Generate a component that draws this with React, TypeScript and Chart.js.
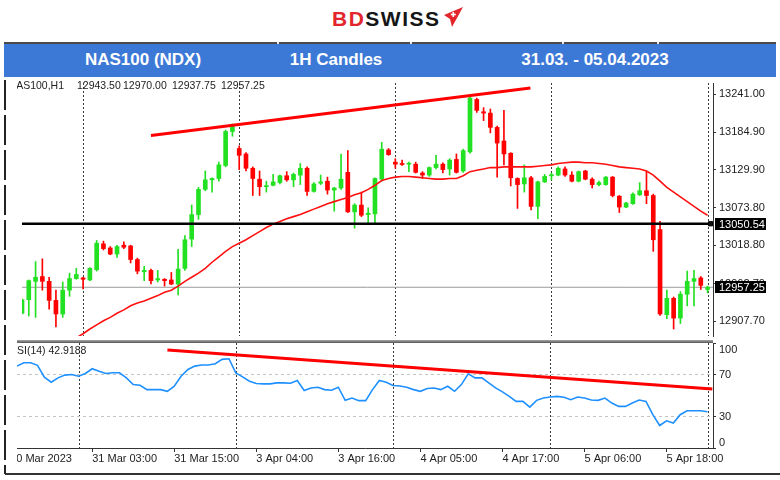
import React, { useEffect, useRef } from "react";
import { Chart, registerables } from "chart.js";

Chart.register(...registerables);

const FONT = "'Liberation Sans', Arial, Helvetica, sans-serif";

// ---------- data ----------
const opens = [
  12919, 12939, 12966, 12973, 12966, 12938, 12918, 12953, 12970, 12971,
  12968, 12983, 13021, 13015, 13006, 13019, 13018, 12998, 12980, 12982,
  12968, 12969, 12968, 12962, 12985, 13028, 13064, 13101, 13115, 13117,
  13136, 13186, 13161, 13153, 13132, 13116, 13105, 13107, 13111, 13121,
  13115, 13122, 13132, 13098, 13110, 13113, 13100, 13103, 13126, 13068,
  13078, 13064, 13065, 13116, 13159, 13141, 13139, 13138, 13138, 13125,
  13122, 13133, 13138, 13131, 13145, 13128, 13156, 13233, 13215, 13213,
  13192, 13172, 13154, 13117, 13109, 13118, 13076, 13112, 13121, 13122,
  13131, 13122, 13113, 13128, 13116, 13108, 13108, 13119, 13091, 13075,
  13080, 13093, 13099, 13092, 13042, 12917, 12941, 12912, 12947, 12966,
  12971, 12954,
];
const highs = [
  12940, 12968, 12995, 12999, 12972, 12953, 12965, 12978, 12985, 12972,
  12986, 13026, 13025, 13017, 13019, 13024, 13019, 13000, 12988, 12984,
  12982, 12970, 12979, 13013, 13033, 13078, 13104, 13128, 13118, 13141,
  13188, 13197, 13165, 13155, 13134, 13128, 13113, 13123, 13122, 13127,
  13125, 13139, 13134, 13111, 13122, 13119, 13104, 13153, 13158, 13080,
  13097, 13074, 13118, 13170, 13161, 13146, 13144, 13141, 13141, 13127,
  13134, 13151, 13140, 13146, 13153, 13160, 13238, 13235, 13221, 13219,
  13194, 13217, 13155, 13118, 13137, 13120, 13113, 13123, 13125, 13134,
  13134, 13127, 13128, 13129, 13118, 13113, 13120, 13120, 13092, 13082,
  13096, 13111, 13128, 13094, 13054, 12953, 12943, 12951, 12981, 12982,
  12973, 12959,
];
const lows = [
  12918, 12915, 12913, 12953, 12925, 12899, 12913, 12944, 12969, 12955,
  12967, 12981, 13012, 13005, 13001, 13014, 12993, 12977, 12967, 12962,
  12965, 12959, 12961, 12946, 12982, 13017, 13057, 13099, 13097, 13113,
  13134, 13179, 13130, 13128, 13092, 13092, 13097, 13106, 13109, 13113,
  13105, 13108, 13092, 13097, 13108, 13094, 13069, 13101, 13067, 13044,
  13061, 13049, 13052, 13113, 13151, 13132, 13136, 13127, 13125, 13117,
  13120, 13131, 13125, 13122, 13125, 13126, 13154, 13214, 13202, 13184,
  13119, 13137, 13106, 13073, 13097, 13071, 13058, 13111, 13115, 13121,
  13120, 13112, 13112, 13115, 13103, 13106, 13107, 13090, 13067, 13074,
  13079, 13092, 13080, 13010, 12916, 12911, 12896, 12904, 12930, 12930,
  12954, 12949,
];
const closes = [
  12939, 12967, 12972, 12966, 12938, 12918, 12953, 12970, 12976, 12969,
  12985, 13022, 13014, 13006, 13017, 13016, 12998, 12981, 12982, 12967,
  12970, 12967, 12962, 12984, 13027, 13064, 13101, 13115, 13117, 13137,
  13186, 13194, 13151, 13132, 13117, 13105, 13106, 13112, 13121, 13115,
  13123, 13132, 13098, 13109, 13112, 13100, 13103, 13116, 13068, 13078,
  13063, 13066, 13117, 13160, 13152, 13138, 13137.5, 13139, 13126, 13122,
  13133, 13138, 13130, 13144, 13126, 13158, 13235, 13217, 13213, 13192,
  13169, 13153, 13118, 13108, 13118, 13076, 13112, 13120, 13122, 13132,
  13122, 13113, 13127, 13116, 13108, 13111, 13119, 13092, 13075, 13081,
  13094, 13099, 13092, 13027, 12918, 12941, 12912, 12947, 12966, 12970,
  12960, 12957.25,
];
const maValues: (number | null)[] = [
  null, null, null, null, null, null, null, null,
  12883, 12889, 12896, 12902, 12908, 12913, 12919, 12924, 12930, 12934, 12937, 12941,
  12945, 12950, 12953, 12959, 12966, 12972, 12978, 12985, 12994, 13002, 13010, 13017,
  13022, 13027, 13033, 13039, 13045, 13050, 13054, 13058, 13061, 13064, 13068, 13072,
  13076, 13080, 13083, 13086, 13089, 13093, 13096, 13101, 13107, 13114, 13117, 13119,
  13120, 13120, 13119, 13118, 13117, 13116, 13116, 13117, 13117, 13121, 13127, 13129,
  13131, 13133, 13133, 13134, 13134, 13134, 13134, 13134, 13135, 13136, 13137, 13139,
  13140, 13141, 13141, 13140, 13140, 13139, 13138, 13136, 13134, 13133, 13132, 13131,
  13128, 13122, 13113, 13104, 13097, 13090, 13083, 13076, 13069, 13063,
];
const rsiValues = [
  78.0, 81.2, 81.2, 78.7, 67.5, 62.7, 66.8, 69.4, 70.0, 68.4,
  71.0, 75.5, 73.2, 71.0, 71.6, 71.6, 66.8, 60.4, 59.8, 55.6,
  55.6, 55.6, 54.0, 58.8, 68.4, 74.8, 78.0, 79.0, 79.0, 80.3,
  84.4, 85.0, 71.6, 67.8, 63.6, 61.4, 61.1, 61.1, 62.0, 62.0,
  61.7, 64.3, 54.7, 57.2, 57.9, 55.6, 55.0, 57.9, 45.4, 47.6,
  45.1, 45.1, 55.6, 64.3, 62.7, 59.5, 59.0, 57.9, 55.6, 54.0,
  56.6, 57.2, 55.6, 58.8, 54.0, 60.4, 70.7, 66.8, 66.8, 62.0,
  57.2, 53.4, 49.2, 44.4, 44.4, 39.0, 45.4, 47.6, 48.6, 49.2,
  48.3, 46.0, 48.6, 47.6, 45.7, 45.4, 47.6, 42.8, 39.6, 39.6,
  42.8, 45.7, 44.4, 31.7, 21.4, 25.9, 23.7, 31.7, 35.5, 35.5,
  35.5, 34.5,
];
const priceTicks = [13241.0, 13184.9, 13129.9, 13073.8, 13018.8, 12962.7, 12907.7];
const rsiTicks = [100, 70, 30, 0];
const rsiLevels = [70, 30];
const timeTickIndex = [-1, 11, 23, 35, 47, 59, 71, 83, 95];
const timeTickLabels = [
  "30 Mar 2023", "31 Mar 03:00", "31 Mar 15:00", "3 Apr 04:00", "3 Apr 16:00",
  "4 Apr 05:00", "4 Apr 17:00", "5 Apr 06:00", "5 Apr 18:00",
];
const daySeparators = [9, 32, 55, 78, 101];
const priceTrendX = [19.0, 74.9];
const priceTrendY = [13180, 13249.7];
const rsiTrendX = [22.0, 101.7];
const rsiTrendY = [93.3, 56.3];
const levelPrice = 13050.54;
const bidPrice = 12957.25;
const infoSymbol = "NAS100,H1";
const infoValues = ["12943.50", "12970.00", "12937.75", "12957.25"];
const rsiCaption = "RSI(14) 42.9188";
const headerCells = ["NAS100 (NDX)", "1H Candles", "31.03. - 05.04.2023"];

// ---------- styling constants ----------
const BULL = "#22e022";
const BEAR = "#ff0000";
const X_MIN = 0;
const X_MAX = 101.8;

function drawDaySeparators(chart: any) {
  const { ctx, chartArea, scales } = chart;
  const x = scales.x;
  ctx.save();
  ctx.strokeStyle = "#3a3a3a";
  ctx.lineWidth = 1;
  ctx.setLineDash([2, 2]);
  for (const d of daySeparators) {
    const px = Math.round(x.getPixelForValue(d)) + 0.5;
    ctx.beginPath();
    ctx.moveTo(px, chartArea.top);
    ctx.lineTo(px, chartArea.bottom);
    ctx.stroke();
  }
  ctx.restore();
}

export default function App() {
  const mainRef = useRef<HTMLCanvasElement>(null);
  const rsiRef = useRef<HTMLCanvasElement>(null);

  useEffect(() => {
    document.body.style.margin = "0";
    Chart.defaults.font.family = FONT;
    Chart.defaults.color = "#222";

    const colors = opens.map((o, i) => (closes[i] >= o ? BULL : BEAR));
    const wickData = highs.map((h, i) => ({ x: i, y: [lows[i], h] }));
    const bodyData = opens.map((o, i) => ({ x: i, y: [o, closes[i]] }));

    const mainOverlay = {
      id: "mainOverlay",
      beforeDatasetsDraw(chart: any) {
        drawDaySeparators(chart);
      },
      afterDraw(chart: any) {
        const { ctx, chartArea, scales } = chart;
        const y = scales.y;
        ctx.save();
        ctx.font = `10.5px ${FONT}`;
        ctx.fillStyle = "#222";
        ctx.textBaseline = "middle";
        ctx.textAlign = "right";
        ctx.fillText(infoSymbol, 47, 8.5);
        ctx.textAlign = "left";
        const xs = [60, 106, 155, 204];
        infoValues.forEach((t, i) => ctx.fillText(t, xs[i], 8.5));
        ctx.font = `11px ${FONT}`;
        [levelPrice, bidPrice].forEach((v) => {
          const py = Math.round(y.getPixelForValue(v));
          ctx.fillStyle = "#000";
          ctx.fillRect(chartArea.right + 2, py - 6, 51, 12);
          ctx.fillStyle = "#fff";
          ctx.fillText(v.toFixed(2), chartArea.right + 6, py + 0.5);
        });
        ctx.restore();
      },
    };

    const main = new Chart(mainRef.current as HTMLCanvasElement, {
      type: "bar",
      data: {
        datasets: [
          {
            type: "line",
            label: "bid",
            data: [{ x: X_MIN, y: bidPrice }, { x: X_MAX, y: bidPrice }],
            borderColor: "#9a9a9a",
            borderWidth: 1,
            pointRadius: 0,
            order: 7,
          } as any,
          {
            type: "bar",
            label: "wick",
            data: wickData,
            backgroundColor: colors,
            barThickness: 1,
            grouped: false,
            minBarLength: 1,
            order: 6,
          } as any,
          {
            type: "bar",
            label: "body",
            data: bodyData,
            backgroundColor: colors,
            barThickness: 4,
            grouped: false,
            minBarLength: 1,
            order: 5,
          } as any,
          {
            type: "line",
            label: "MA",
            data: maValues.map((v, i) => ({ x: i, y: v })),
            borderColor: "#ff1010",
            borderWidth: 1.6,
            pointRadius: 0,
            order: 4,
          } as any,
          {
            type: "line",
            label: "level",
            data: [{ x: X_MIN, y: levelPrice }, { x: X_MAX, y: levelPrice }],
            borderColor: "#000",
            borderWidth: 2.5,
            pointRadius: 0,
            order: 3,
          } as any,
          {
            type: "line",
            label: "trend",
            data: priceTrendX.map((x, i) => ({ x, y: priceTrendY[i] })),
            borderColor: "#ff0000",
            borderWidth: 3,
            pointRadius: 0,
            order: 2,
          } as any,
          {
            type: "line",
            label: "marker",
            data: [{ x: 101.45, y: levelPrice }],
            showLine: false,
            pointStyle: "rect",
            pointRadius: 3,
            pointBackgroundColor: "#111",
            pointBorderColor: "#000",
            pointBorderWidth: 1,
            order: 1,
          } as any,
        ],
      },
      options: {
        animation: false,
        responsive: false,
        events: [],
        layout: { padding: 0 },
        plugins: { legend: { display: false }, tooltip: { enabled: false } },
        scales: {
          x: {
            type: "linear",
            min: X_MIN,
            max: X_MAX,
            offset: false,
            display: false,
            grid: { offset: false },
          },
          y: {
            type: "linear",
            position: "right",
            min: 12885.7,
            max: 13257.2,
            afterBuildTicks: (s: any) => {
              s.ticks = priceTicks.map((v) => ({ value: v }));
            },
            afterFit: (s: any) => {
              s.width = 67;
              s.paddingTop = 0;
              s.paddingBottom = 0;
            },
            ticks: {
              autoSkip: false,
              padding: 3,
              color: "#222",
              font: { size: 11, family: FONT },
              callback: (v: any) => Number(v).toFixed(2),
            },
            grid: { drawOnChartArea: false, drawTicks: true, tickLength: 3, color: "#333" },
            border: { display: true, color: "#333", width: 1 },
          },
        },
      } as any,
      plugins: [mainOverlay],
    });

    const rsiOverlay = {
      id: "rsiOverlay",
      beforeDatasetsDraw(chart: any) {
        drawDaySeparators(chart);
      },
      afterDraw(chart: any) {
        const { ctx, chartArea, scales } = chart;
        const y = scales.y;
        ctx.save();
        ctx.font = `11px ${FONT}`;
        ctx.fillStyle = "#222";
        ctx.textBaseline = "middle";
        ctx.textAlign = "left";
        rsiTicks.forEach((v) => {
          let py = y.getPixelForValue(v);
          if (v === 100) py += 6.5;
          if (v === 0) py -= 5;
          ctx.fillText(String(v), chartArea.right + 6, py);
        });
        ctx.font = `10.5px ${FONT}`;
        ctx.fillText(rsiCaption, -7.6, 8.5);
        ctx.restore();
      },
    };

    const rsi = new Chart(rsiRef.current as HTMLCanvasElement, {
      type: "line",
      data: {
        datasets: [
          ...rsiLevels.map((lv) => ({
            label: "L" + lv,
            data: [{ x: X_MIN, y: lv }, { x: X_MAX, y: lv }],
            borderColor: "#c4c4c4",
            borderWidth: 1,
            borderDash: [3, 3],
            pointRadius: 0,
            order: 5,
          })),
          {
            label: "RSI",
            data: rsiValues.map((v, i) => ({ x: i, y: v })),
            borderColor: "#1e90ff",
            borderWidth: 1.6,
            pointRadius: 0,
            order: 2,
          },
          {
            label: "trend",
            data: rsiTrendX.map((x, i) => ({ x, y: rsiTrendY[i] })),
            borderColor: "#ff0000",
            borderWidth: 3,
            pointRadius: 0,
            order: 1,
          },
        ] as any,
      },
      options: {
        animation: false,
        responsive: false,
        events: [],
        layout: { padding: 0 },
        plugins: { legend: { display: false }, tooltip: { enabled: false } },
        scales: {
          x: {
            type: "linear",
            min: X_MIN,
            max: X_MAX,
            offset: false,
            position: "bottom",
            afterBuildTicks: (s: any) => {
              s.ticks = timeTickIndex.map((v) => ({ value: v }));
            },
            afterFit: (s: any) => {
              s.height = 26;
              s.paddingLeft = 0;
              s.paddingRight = 0;
            },
            ticks: {
              autoSkip: false,
              maxRotation: 0,
              minRotation: 0,
              align: "start",
              padding: 0,
              color: "#222",
              font: { size: 11, family: FONT },
              callback: (v: any) => {
                const k = timeTickIndex.indexOf(Number(v));
                return k >= 0 ? timeTickLabels[k] : "";
              },
            },
            grid: { drawOnChartArea: false, drawTicks: true, tickLength: 4, color: "#333", offset: false },
            border: { display: true, color: "#333", width: 1 },
          },
          y: {
            type: "linear",
            position: "right",
            min: 0,
            max: 100,
            afterBuildTicks: (s: any) => {
              s.ticks = rsiTicks.map((v) => ({ value: v }));
            },
            afterFit: (s: any) => {
              s.width = 67;
              s.paddingTop = 0;
              s.paddingBottom = 0;
            },
            ticks: { display: false },
            grid: { drawOnChartArea: false, drawTicks: true, tickLength: 3, color: "#333" },
            border: { display: true, color: "#333", width: 1 },
          },
        },
      } as any,
      plugins: [rsiOverlay],
    });

    return () => {
      main.destroy();
      rsi.destroy();
    };
  }, []);

  const headerCenters = [139, 332, 591];

  return (
    <div
      style={{
        position: "relative",
        width: 780,
        height: 480,
        background: "#fff",
        overflow: "hidden",
        fontFamily: FONT,
      }}
    >
      {/* logo */}
      <div
        style={{
          position: "absolute",
          left: 332,
          top: 6,
          height: 26,
          lineHeight: "26px",
          fontSize: 21,
          fontWeight: 900,
          letterSpacing: 1.5,
          whiteSpace: "nowrap",
        }}
      >
        <span style={{ color: "#e3262d" }}>BD</span>
        <span style={{ color: "#161616" }}>SWISS</span>
      </div>
      <svg
        style={{ position: "absolute", left: 440, top: 4, width: 26, height: 26 }}
        viewBox="0 0 26 26"
      >
        <polygon points="4,11 23,3 12,23 10,15" fill="#e3262d" />
        <rect x="12.5" y="8" width="1.6" height="5" fill="#fff" />
        <rect x="10.8" y="9.7" width="5" height="1.6" fill="#fff" />
      </svg>

      {/* header bar */}
      <div
        style={{
          position: "absolute",
          left: 4,
          top: 42,
          width: 772,
          height: 35,
          background: "#3c79d7",
          borderTop: "2px solid #4a4a4a",
          boxSizing: "border-box",
        }}
      >
        {headerCells.map((t, i) => (
          <div
            key={t}
            style={{
              position: "absolute",
              left: headerCenters[i],
              top: 3,
              transform: "translateX(-50%)",
              color: "#fff",
              fontWeight: 700,
              fontSize: 17,
              lineHeight: "26px",
              whiteSpace: "nowrap",
            }}
          >
            {t}
          </div>
        ))}
      </div>
      {[277, 410, 562, 657].map((x) => (
        <div
          key={x}
          style={{ position: "absolute", left: x, top: 42, width: 2, height: 2, background: "#e8e8e8" }}
        />
      ))}

      {/* left broken frame line */}
      <div
        style={{
          position: "absolute",
          left: 4,
          top: 80,
          width: 1.5,
          height: 394,
          background: "repeating-linear-gradient(to bottom, #222 0px, #222 30px, transparent 30px, transparent 35px)",
        }}
      />
      {/* bottom frame line */}
      <div
        style={{ position: "absolute", left: 5, top: 473, width: 775, height: 1.5, background: "#333" }}
      />

      {/* main chart */}
      <div style={{ position: "absolute", left: 17, top: 78, width: 763, height: 263 }}>
        <canvas ref={mainRef} width={763} height={263} />
      </div>

      {/* pane separator */}
      <div
        style={{
          position: "absolute",
          left: 17,
          top: 340,
          width: 696,
          height: 3,
          background: "linear-gradient(to bottom, #a8a8a8, #555)",
        }}
      />

      {/* RSI chart */}
      <div style={{ position: "absolute", left: 17, top: 343, width: 763, height: 131 }}>
        <canvas ref={rsiRef} width={763} height={131} />
      </div>
    </div>
  );
}
